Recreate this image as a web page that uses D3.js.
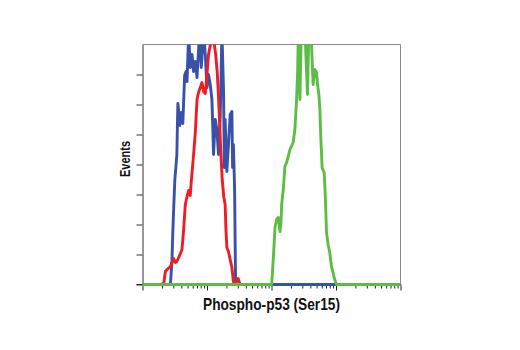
<!DOCTYPE html>
<html>
<head>
<meta charset="utf-8">
<script src="https://cdn.jsdelivr.net/npm/d3@7"></script>
<style>
  html, body { margin: 0; padding: 0; background: #fff; }
  svg { display: block; }
</style>
</head>
<body>
<svg id="chart" width="520" height="350"></svg>
<script>
// Histogram channels (256 channels over 4 log decades) and event counts.
const controlBlue = [
  [0, 0], [27.7, 0], [29.2, 23], [30.1, 53], [31.1, 80], [32.1, 105], [33.1, 117],
  [34.1, 130], [34.6, 157], [35.1, 181], [35.9, 173], [36.9, 159], [38.5, 172],
  [40.0, 161], [41.8, 209], [43.2, 213], [44.2, 203], [45.8, 252], [47.4, 217],
  [49.1, 230], [50.7, 213], [52.4, 223], [54.1, 207], [56.6, 252], [58.3, 217],
  [60.6, 252], [62.3, 230], [64.0, 197], [65.5, 210], [67.2, 200], [68.9, 185],
  [70.5, 130], [72.2, 165], [73.8, 155], [75.4, 130], [77.1, 167], [78.8, 252],
  [80.4, 195], [81.2, 117], [82.0, 165], [83.7, 113], [85.3, 140], [87.0, 170],
  [88.7, 173], [89.4, 117], [90.2, 140], [91.4, 95], [91.9, 45], [92.4, 0], [192.4, 0]
];
const untreatedRed = [
  [17.8, 0], [21.1, 1], [22.7, 13], [24.4, 15], [27.7, 18], [30.9, 26], [32.6, 22],
  [34.1, 23], [35.9, 27], [37.6, 31], [39.2, 35], [40.8, 55], [41.8, 70], [42.5, 80],
  [44.2, 88], [45.8, 94], [47.4, 89], [48.4, 103], [50.7, 130], [52.4, 152],
  [54.1, 185], [55.6, 192], [57.3, 197], [59.0, 202], [60.6, 193], [62.3, 191],
  [63.7, 207], [65.5, 230], [67.2, 239], [69.2, 244], [71.2, 241], [72.6, 230],
  [74.1, 213], [75.4, 188], [76.6, 160], [77.6, 135], [79.1, 105], [80.6, 88],
  [82.0, 80], [82.8, 55], [83.7, 37], [85.3, 33], [87.0, 25], [88.7, 17], [90.2, 3],
  [91.9, 0], [94.9, 6], [96.9, 0]
];
const treatedGreen = [
  [0, 0], [128.2, 0], [130.0, 30], [131.5, 57], [133.1, 65], [134.7, 67], [136.4, 53],
  [137.4, 62], [138.1, 80], [139.7, 95], [141.3, 118], [143.0, 122], [144.6, 128],
  [146.3, 135], [149.5, 142], [151.2, 155], [152.9, 185], [153.9, 212], [154.7, 255],
  [156.2, 185], [157.6, 255], [161.1, 255], [163.7, 190], [165.1, 255], [167.5, 245],
  [169.3, 200], [171.0, 215], [172.7, 212], [173.7, 200], [175.0, 190], [176.0, 175],
  [177.0, 145], [177.6, 132], [178.2, 117], [180.2, 112], [180.9, 100], [181.6, 82],
  [182.6, 52], [184.2, 40], [185.8, 32], [187.5, 18], [189.1, 12], [190.1, 7],
  [192.4, 0], [256, 0]
];

const seriesColors = ["#3752a8", "#ee1c25", "#5cbd44"];
const xDomain = [1, 10000];
const yDomain = [0, 240];
const yTickValues = [0, 30, 60, 90, 120, 150, 180, 210];
const xTitle = "Phospho-p53 (Ser15)";
const yTitle = "Events";

(function draw() {
  const svg = d3.select("#chart");
  const x0 = 142.5, x1 = 400.5, y0 = 284.5, y1 = 44.5;

  const x = d3.scaleLog().domain(xDomain).range([x0, x1]);
  const y = d3.scaleLinear().domain(yDomain).range([y0, y1]);
  const channelToIntensity = ch => Math.pow(10, ch / 64);

  // frame: grey box on top and right
  svg.append("path")
    .attr("d", `M${x0},${y1}H${x1}V${y0}`)
    .attr("fill", "none").attr("stroke", "#8a8a8a").attr("stroke-width", 1);

  // left axis
  const gy = svg.append("g").attr("transform", `translate(${x0},0)`)
    .call(d3.axisLeft(y).tickValues(yTickValues).tickSize(6).tickSizeOuter(0).tickFormat(""));
  gy.select(".domain").attr("stroke", "#333");
  gy.selectAll(".tick line").attr("stroke", "#333");

  // bottom log axis: decades plus 2..9 minor ticks
  const gx = svg.append("g").attr("transform", `translate(0,${y0})`)
    .call(d3.axisBottom(x).ticks(10).tickSize(5).tickSizeOuter(0).tickFormat(""));
  gx.select(".domain").attr("stroke", "#222").attr("d", `M${x0 - 6},0H${x1}`);
  gx.selectAll(".tick line")
    .attr("stroke", "#222")
    .attr("y2", d => {
      const m = d / Math.pow(10, Math.floor(Math.log10(d) + 1e-9));
      return Math.abs(m - 1) < 1e-6 ? 6 : 4;
    });

  // histograms
  svg.append("clipPath").attr("id", "plotClip")
    .append("rect").attr("x", x0).attr("y", y1)
    .attr("width", x1 - x0).attr("height", y0 - y1 + 4);

  const line = d3.line()
    .x(d => x(channelToIntensity(d[0])))
    .y(d => y(d[1]));

  const plot = svg.append("g").attr("clip-path", "url(#plotClip)");
  [controlBlue, untreatedRed, treatedGreen].forEach((s, i) => {
    plot.append("path")
      .datum(s)
      .attr("d", line)
      .attr("fill", "none")
      .attr("stroke", seriesColors[i])
      .attr("stroke-width", 2.9)
      .attr("stroke-linejoin", "round")
      .attr("stroke-linecap", "round");
  });

  const fontStack = "'Liberation Sans', Arial, sans-serif";

  svg.append("text")
    .attr("x", 271.5)
    .attr("y", 310)
    .attr("text-anchor", "middle")
    .attr("font-family", fontStack)
    .attr("font-weight", "bold")
    .attr("font-size", 16.5)
    .attr("textLength", 137)
    .attr("lengthAdjust", "spacingAndGlyphs")
    .attr("fill", "#111")
    .text(xTitle);

  svg.append("text")
    .attr("transform", "translate(130,159) rotate(-90)")
    .attr("text-anchor", "middle")
    .attr("font-family", fontStack)
    .attr("font-weight", "bold")
    .attr("font-size", 14)
    .attr("textLength", 36)
    .attr("lengthAdjust", "spacingAndGlyphs")
    .attr("fill", "#111")
    .text(yTitle);
})();
</script>
</body>
</html>
